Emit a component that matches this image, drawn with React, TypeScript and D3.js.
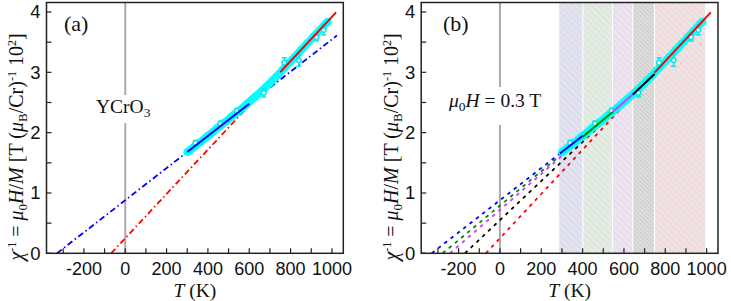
import React from 'react';
import * as d3 from 'd3';

// measured temperatures (K) and inverse susceptibility (units of 10^2)
const temps = [300, 310, 320, 330, 340, 350, 360, 370, 380, 390, 400, 410, 420, 430, 440, 450, 460, 470, 480, 490,
  500, 510, 520, 530, 540, 550, 560, 570, 580, 590, 600, 610, 620, 630, 640, 650, 660, 670, 680, 690,
  700, 710, 720, 730, 740, 750, 760, 770, 780, 790, 800, 810, 820, 830, 840, 850, 860, 870, 880, 890,
  900, 910, 920, 930, 940, 950, 960, 970, 980];
const chiInv = [1.68, 1.70, 1.73, 1.76, 1.78, 1.81, 1.84, 1.86, 1.89, 1.92, 1.95, 1.97, 2.00, 2.03, 2.06, 2.09, 2.11, 2.14, 2.17, 2.19,
  2.22, 2.25, 2.28, 2.31, 2.33, 2.36, 2.39, 2.42, 2.45, 2.48, 2.51, 2.54, 2.57, 2.60, 2.63, 2.66, 2.69, 2.72, 2.76, 2.79,
  2.82, 2.86, 2.89, 2.93, 2.96, 3.00, 3.04, 3.07, 3.11, 3.15, 3.18, 3.22, 3.26, 3.29, 3.33, 3.37, 3.40, 3.44, 3.48, 3.51,
  3.55, 3.59, 3.62, 3.66, 3.70, 3.73, 3.77, 3.81, 3.84];

// points drawn with error bars
const errTemps = [340, 460, 540, 670, 770, 840, 925, 960];
const errVals = [1.83, 2.15, 2.36, 2.66, 3.16, 3.2, 3.58, 3.70];
const errSizes = [0.04, 0.04, 0.04, 0.07, 0.08, 0.1, 0.06, 0.08];

// panel (a): Curie-Weiss fits (dash-dot)
const fitColorsA = ['#0000ff', '#ff0000'];
const interceptsA = [0.88, 0.25];
const slopesA = [0.002665, 0.00367];
const solidFromA = [300, 750];
const solidToA = [600, 1020];
const dashToA = [1024, 750];

// panel (b): piecewise fits over temperature windows
const fitColorsB = ['#0000ff', '#008800', '#cc44ff', '#000000', '#ff0000'];
const interceptsB = [0.88, 0.79, 0.72, 0.55, 0.25];
const slopesB = [0.002665, 0.00285, 0.00298, 0.00324, 0.00367];
const segFrom = [290, 400, 545, 643, 748];
const segTo = [400, 545, 643, 748, 1020];

// shaded windows in panel (b)
const bandEdges = [284, 401, 545, 643, 748, 993];
const bandFills = ['#e4e4f1', '#e4ece4', '#ece4ef', '#dfdfdf', '#f0e2e2'];
const bandHatch = ['#c2c2e4', '#c0d8c0', '#d8c2e4', '#ababab', '#e4c2c2'];

const xTicks = d3.range(-300, 1001, 100);
const xLabels = [-200, 0, 200, 400, 600, 800, 1000];
const yTicks = d3.range(0, 4.01, 0.5);
const yLabels = [0, 1, 2, 3, 4];

const serif = '"Liberation Serif", "Times New Roman", serif';
const sans = '"Liberation Sans", Arial, sans-serif';

const Panel = ({ dx, tag, kind }: { dx: number; tag: string; kind: 'a' | 'b' }) => {
  const x = d3.scaleLinear().domain([-381, 1055]).range([46.5 + dx, 343.3 + dx]);
  const y = d3.scaleLinear().domain([0, 4.157]).range([253.3, 2.5]);
  const [x0, x1] = x.range();
  const [y0, y1] = y.range();
  const line = d3.line<number[]>().x(d => x(d[0])).y(d => y(d[1]));
  const fitPath = (a: number, b: number, t0: number, t1: number) => line([[t0, a + b * t0], [t1, a + b * t1]]) || '';

  return (
    <g>
      {kind === 'b' && bandFills.map((c, i) => (
        <g key={'band' + i}>
          <rect x={x(bandEdges[i])} y={y1} width={x(bandEdges[i + 1]) - x(bandEdges[i])} height={y0 - y1}
            fill={`url(#hatch${i})`} />
          <line x1={x(bandEdges[i])} x2={x(bandEdges[i])} y1={y1} y2={y0} stroke="#fff" strokeWidth={1} />
        </g>
      ))}

      {/* T = 0 guide */}
      <line x1={x(0)} x2={x(0)} y1={y1} y2={y0} stroke="#aaa" strokeWidth={2} />

      {kind === 'a' && fitColorsA.map((c, i) => (
        <path key={'da' + i} d={fitPath(interceptsA[i], slopesA[i], -interceptsA[i] / slopesA[i], dashToA[i])}
          stroke={c} strokeWidth={1.8} fill="none" strokeDasharray="6,3,1.5,3" />
      ))}
      {kind === 'b' && fitColorsB.map((c, i) => (
        <path key={'db' + i} d={fitPath(interceptsB[i], slopesB[i], -interceptsB[i] / slopesB[i], segFrom[i])}
          stroke={c} strokeWidth={1.8} fill="none" strokeDasharray="3.5,4.5" />
      ))}

      {/* data */}
      {temps.map((t, i) => (
        <circle key={'p' + i} cx={x(t)} cy={y(chiInv[i])} r={3.9} fill="#00ffff" />
      ))}
      {errTemps.map((t, i) => (
        <g key={'e' + i} stroke="#00e8f0" strokeWidth={1.5}>
          <line x1={x(t)} x2={x(t)} y1={y(errVals[i] - errSizes[i])} y2={y(errVals[i] + errSizes[i])} />
          <line x1={x(t) - 2.5} x2={x(t) + 2.5} y1={y(errVals[i] - errSizes[i])} y2={y(errVals[i] - errSizes[i])} />
          <line x1={x(t) - 2.5} x2={x(t) + 2.5} y1={y(errVals[i] + errSizes[i])} y2={y(errVals[i] + errSizes[i])} />
          <circle cx={x(t)} cy={y(errVals[i])} r={2.3} fill="#fff" />
        </g>
      ))}

      {kind === 'a' && fitColorsA.map((c, i) => (
        <path key={'sa' + i} d={fitPath(interceptsA[i], slopesA[i], solidFromA[i], solidToA[i])}
          stroke={c} strokeWidth={2} fill="none" />
      ))}
      {kind === 'b' && fitColorsB.map((c, i) => (
        <path key={'sb' + i} d={fitPath(interceptsB[i], slopesB[i], segFrom[i], segTo[i])}
          stroke={c} strokeWidth={2} fill="none" />
      ))}

      {/* annotation */}
      {kind === 'a' ? (
        <g>
          <rect x={x(0) - 28} y={95} width={56} height={28} fill="#fff" />
          <text x={96 + dx} y={113} fontFamily={serif} fontSize={19.5} fill="#111">
            YCrO<tspan dy={4} fontSize={13.5}>3</tspan>
          </text>
        </g>
      ) : (
        <g>
          <rect x={449} y={87} width={98} height={38} fill="#fff" />
          <text x={449} y={107} fontFamily={serif} fontSize={19.5} fill="#111">
            <tspan fontStyle="italic">μ</tspan><tspan dy={4} fontSize={13.5}>0</tspan>
            <tspan dy={-4} fontStyle="italic">H</tspan> = 0.3 T
          </text>
        </g>
      )}
      <text x={kind === 'a' ? 64 : 443} y={31} fontFamily={serif} fontSize={22} fill="#111">{tag}</text>

      {/* ticks */}
      {xTicks.map(t => (
        <line key={'xt' + t} x1={x(t)} x2={x(t)} y1={y0} y2={y0 - 5} stroke="#222" strokeWidth={1.2} />
      ))}
      {yTicks.map(v => (
        <line key={'yt' + v} x1={x0} x2={x0 + 5} y1={y(v)} y2={y(v)} stroke="#222" strokeWidth={1.2} />
      ))}
      <rect x={x0} y={y1} width={x1 - x0} height={y0 - y1} fill="none" stroke="#222" strokeWidth={1.5} />

      {xLabels.map(t => (
        <text key={'xl' + t} x={x(t)} y={275} textAnchor="middle" fontFamily={sans} fontSize={18} fill="#111">{t}</text>
      ))}
      {yLabels.map(v => (
        <text key={'yl' + v} x={x0 - 6} y={y(v)} textAnchor="end" dominantBaseline="central" fontFamily={sans}
          fontSize={18.5} fill="#111">{v}</text>
      ))}

      <text x={(x0 + x1) / 2} y={297} textAnchor="middle" fontFamily={serif} fontSize={19.5} fill="#111">
        <tspan fontStyle="italic">T</tspan> (K)
      </text>
      <text transform={`translate(${23 + dx},147) rotate(-90)`} textAnchor="middle" fontFamily={serif} fontSize={20} fill="#111">
        <tspan fontStyle="italic">χ</tspan><tspan dy={-7} fontSize={12}>-1</tspan>
        <tspan dy={7}> = </tspan><tspan fontStyle="italic">μ</tspan><tspan dy={4} fontSize={13}>0</tspan>
        <tspan dy={-4} fontStyle="italic">H</tspan>/<tspan fontStyle="italic">M</tspan> [T (<tspan fontStyle="italic">μ</tspan>
        <tspan dy={4} fontSize={13}>B</tspan><tspan dy={-4}>/Cr)</tspan><tspan dy={-7} fontSize={12}>-1</tspan>
        <tspan dy={7}> 10</tspan><tspan dy={-7} fontSize={12}>2</tspan><tspan dy={7}>]</tspan>
      </text>
    </g>
  );
};

const App = () => {
  return (
    <svg width={731} height={301} style={{ position: 'absolute', left: 0, top: 0, background: '#fff' }}>
      <defs>
        {bandFills.map((c, i) => (
          <pattern key={i} id={`hatch${i}`} patternUnits="userSpaceOnUse" width={i === 3 ? 3 : 4.5} height={i === 3 ? 3 : 4.5}
            patternTransform="rotate(-45)">
            <rect width={5} height={5} fill={c} />
            <line x1={0} y1={0} x2={0} y2={5} stroke={bandHatch[i]} strokeWidth={0.8} />
          </pattern>
        ))}
      </defs>
      <Panel dx={0} tag="(a)" kind="a" />
      <Panel dx={374.7} tag="(b)" kind="b" />
    </svg>
  );
};

export default App;
